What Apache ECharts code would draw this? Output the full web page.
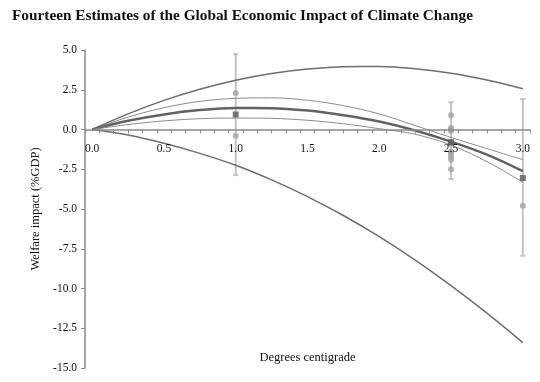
<!DOCTYPE html>
<html>
<head>
<meta charset="utf-8">
<script src="https://cdn.jsdelivr.net/npm/echarts@6/dist/echarts.min.js"></script>
<style>html,body{margin:0;padding:0;background:#fff}#c{width:540px;height:382px}</style>
</head>
<body>
<div id="c"></div>
<script>
// Temperature grid for the fitted curves (degrees centigrade)
const curveX = [0, 0.25, 0.5, 0.75, 1.0, 1.25, 1.5, 1.75, 2.0, 2.25, 2.5, 2.75, 3.0];
// Curves (% GDP)
const upperOuter = [0, 0.98, 1.83, 2.53, 3.10, 3.52, 3.80, 3.95, 3.96, 3.82, 3.54, 3.11, 2.56];
const upperBand  = [0, 0.78, 1.37, 1.77, 1.96, 1.99, 1.84, 1.50, 0.98, 0.25, -0.50, -1.20, -1.90];
const central    = [0, 0.55, 0.95, 1.22, 1.35, 1.34, 1.19, 0.90, 0.50, -0.06, -0.76, -1.58, -2.62];
const lowerBand  = [0, 0.31, 0.54, 0.68, 0.72, 0.70, 0.58, 0.36, 0.05, -0.30, -0.98, -2.02, -3.32];
const lowerOuter = [0, -0.35, -0.87, -1.50, -2.25, -3.17, -4.22, -5.41, -6.74, -8.21, -9.82, -11.55, -13.40];

// Individual estimates (visible dots)
const estX = [1.0, 1.0, 2.5, 2.5, 2.5, 2.5, 2.5, 2.5, 2.5, 2.5, 2.5, 2.5, 3.0];
const estY = [2.3, -0.4, 0.9, 0.1, 0.0, -0.1, -0.9, -1.4, -1.5, -1.7, -1.9, -2.5, -4.8];

// Averages and their ranges
const meanX = [1.0, 2.5, 3.0];
const meanY = [0.95, -0.8, -3.05];
const barHigh = [4.74, 1.72, 1.91];
const barLow = [-2.87, -3.12, -7.94];

// Tick labels
const xTickLabels = [0.0, 0.5, 1.0, 1.5, 2.0, 2.5, 3.0];
const yTickLabels = [5.0, 2.5, 0.0, -2.5, -5.0, -7.5, -10.0, -12.5, -15.0];

const xMinor = [];
for (let i = 0; i <= 31; i++) xMinor.push(+(-0.05 + 0.1 * i).toFixed(2));

const FONT = 'Liberation Serif';
const GRID_BOTTOM = 14;
const pair = (xs, ys) => xs.map((x, i) => [x, ys[i]]);

function curve(name, ys, color, width, z) {
  return {
    name, type: 'line', data: pair(curveX, ys), smooth: 0.35, symbol: 'none',
    lineStyle: { color, width }, z, silent: true
  };
}

const chart = echarts.init(document.getElementById('c'), null, { renderer: 'canvas' });
chart.setOption({
  animation: false,
  backgroundColor: '#ffffff',
  title: {
    text: 'Fourteen Estimates of the Global Economic Impact of Climate Change',
    left: 7, top: 4,
    textStyle: { fontFamily: FONT, fontWeight: 'bold', fontSize: 15.3, color: '#111' }
  },
  grid: { left: 85, right: 10, top: 50, bottom: GRID_BOTTOM, containLabel: false, outerBoundsMode: 'none' },
  xAxis: {
    type: 'value', min: -0.05, max: 3.05, interval: 0.1, z: 10, offset: 0,
    name: 'Degrees centigrade', nameLocation: 'middle', nameGap: 222,
    nameTextStyle: { fontFamily: FONT, fontSize: 12.5, color: '#111' },
    axisLine: { onZero: false, lineStyle: { color: '#8a8a8a', width: 1.5 } },
    axisTick: { show: true, length: 4, customValues: xMinor, lineStyle: { color: '#8a8a8a', width: 1 } },
    axisLabel: {
      customValues: xTickLabels, margin: 13, hideOverlap: false,
      formatter: v => Number(v).toFixed(1),
      fontFamily: FONT, fontSize: 11.5, color: '#111'
    },
    splitLine: { show: false }
  },
  yAxis: {
    type: 'value', min: -15, max: 5, interval: 2.5, z: 10,
    name: 'Welfare impact (%GDP)', nameLocation: 'middle', nameGap: 42, nameRotate: 90,
    nameTextStyle: { fontFamily: FONT, fontSize: 12.5, color: '#111' },
    axisLine: { show: true, onZero: false, lineStyle: { color: '#8a8a8a', width: 1.5 } },
    axisTick: { show: true, length: 4, customValues: yTickLabels, lineStyle: { color: '#8a8a8a', width: 1 } },
    axisLabel: {
      customValues: yTickLabels, margin: 8, showMinLabel: true, showMaxLabel: true, hideOverlap: false,
      formatter: v => Number(v).toFixed(1),
      fontFamily: FONT, fontSize: 11.5, color: '#111'
    },
    splitLine: { show: false }
  },
  series: [
    {
      name: 'range', type: 'custom', z: 1, silent: true,
      data: meanX.map((x, i) => [x, barHigh[i], barLow[i]]),
      renderItem(params, api) {
        const x = api.value(0);
        const p1 = api.coord([x, api.value(1)]);
        const p2 = api.coord([x, api.value(2)]);
        const st = { stroke: '#c4c4c4', lineWidth: 2 };
        const h = 2.5;
        return {
          type: 'group',
          children: [
            { type: 'line', shape: { x1: p1[0], y1: p1[1], x2: p2[0], y2: p2[1] }, style: st },
            { type: 'line', shape: { x1: p1[0] - h, y1: p1[1], x2: p1[0] + h, y2: p1[1] }, style: st },
            { type: 'line', shape: { x1: p2[0] - h, y1: p2[1], x2: p2[0] + h, y2: p2[1] }, style: st }
          ]
        };
      }
    },
    curve('upperOuter', upperOuter, '#6e6e6e', 1.5, 3),
    curve('upperBand', upperBand, '#8c8c8c', 1, 3),
    curve('central', central, '#626262', 2.5, 3),
    curve('lowerBand', lowerBand, '#8c8c8c', 1, 3),
    curve('lowerOuter', lowerOuter, '#6e6e6e', 1.5, 3),
    {
      name: 'estimates', type: 'scatter', data: pair(estX, estY), z: 4, silent: true,
      symbol: 'circle', symbolSize: 6, itemStyle: { color: '#a3a3a3' }
    },
    {
      name: 'means', type: 'scatter', data: pair(meanX, meanY), z: 5, silent: true,
      symbol: 'rect', symbolSize: 6, itemStyle: { color: '#575757' }
    }
  ]
});

// Move the x axis (line, ticks, labels, name) to y = 0 using the library's own y scale
const zeroY = chart.convertToPixel({ yAxisIndex: 0 }, 0);
const bottomY = chart.getHeight() - GRID_BOTTOM;
chart.setOption({ xAxis: { offset: zeroY - bottomY } });
</script>
</body>
</html>
